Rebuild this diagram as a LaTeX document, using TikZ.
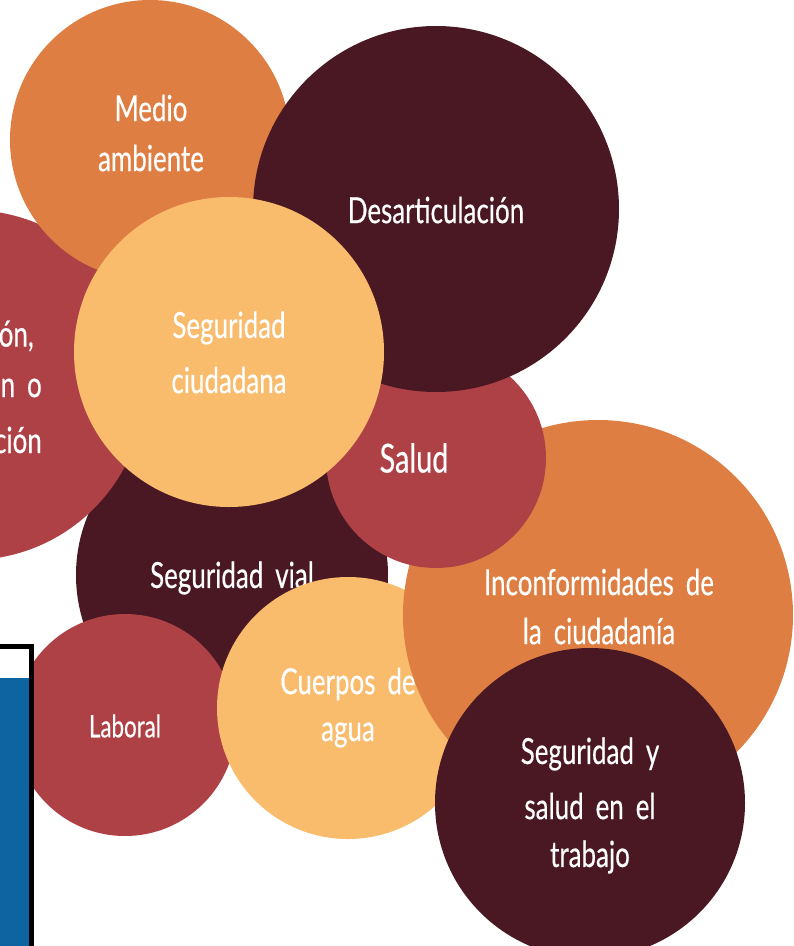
\documentclass[tikz,border=0pt]{standalone}
\usepackage{fontspec}
\setmainfont{Lato}[FakeStretch=0.72,WordSpace=1.8,FakeBold=0.4]
\definecolor{corange}{HTML}{DE7E42}
\definecolor{cdark}{HTML}{4A1823}
\definecolor{cred}{HTML}{AE4145}
\definecolor{cyellow}{HTML}{F9BB6C}
\definecolor{cblue}{HTML}{0E64A0}
\begin{document}
\begin{tikzpicture}[x=1pt,y=-1pt,
  bub/.style={circle,inner sep=0pt,minimum size=#1*2pt},
  lbl/.style={text=white,font=\fontsize{36}{36}\selectfont,inner sep=0pt},
  slbl/.style={text=white,font=\fontsize{31}{31}\selectfont,inner sep=0pt}]
\useasboundingbox (0,0) rectangle (794,946);
\clip (0,0) rectangle (794,946);
% Seguridad vial
\node[bub=156,fill=cdark] (vial) at (232,575) {};
\node[lbl] (tvial) at (232,578) {Seguridad vial};
% Laboral
\node[bub=111,fill=cred] (lab) at (125,725) {};
\node[slbl] (tlab) at (125,726) {Laboral};
% Cuerpos de agua
\node[bub=131,fill=cyellow] (agua) at (348,708) {};
\node[lbl] (tagua1) at (348,684) {Cuerpos de};
\node[lbl] (tagua2) at (348,735) {agua};
% Inconformidades
\node[bub=195,fill=corange] (inc) at (598,615) {};
\node[lbl] (tinc1) at (599,582) {Inconformidades de};
\node[lbl] (tinc2) at (599,631) {la ciudadanía};
% Seguridad y salud en el trabajo
\node[bub=155,fill=cdark] (sst) at (590,803) {};
\node[lbl] (tsst1) at (590,754) {Seguridad y};
\node[lbl] (tsst2) at (590,806) {salud en el};
\node[lbl] (tsst3) at (590,857) {trabajo};
% left red (cut off)
\node[bub=175,fill=cred] (left) at (-30,385) {};
\node[lbl,anchor=east] (tl1) at (34,336) {ón,};
\node[lbl,anchor=east] (tl2) at (42,388) {n o};
\node[lbl,anchor=east] (tl3) at (42,440) {ción};
% Medio ambiente
\node[bub=140,fill=corange] (med) at (150,140) {};
\node[lbl] (tmed1) at (151,108) {Medio};
\node[lbl] (tmed2) at (151,158) {ambiente};
% Salud
\node[bub=110,fill=cred] (sal) at (436,458) {};
\node[text=white,font=\fontsize{40}{40}\selectfont,inner sep=0pt] (tsal) at (414,458) {Salud};
% Desarticulacion
\node[bub=183,fill=cdark] (des) at (436,209) {};
\node[lbl] (tdes) at (436,210) {Desarticulación};
% Seguridad ciudadana
\node[bub=155,fill=cyellow] (ciu) at (229,352) {};
\node[lbl] (tciu1) at (229,328) {Seguridad};
\node[lbl] (tciu2) at (229,380) {ciudadana};
% blue box
\fill[white] (-10,646) rectangle (31,960);
\fill[cblue] (-10,678) rectangle (29,960);
\draw[black,line width=5pt] (-10,646.5) -- (31.5,646.5) -- (31.5,960);
\end{tikzpicture}
\end{document}
